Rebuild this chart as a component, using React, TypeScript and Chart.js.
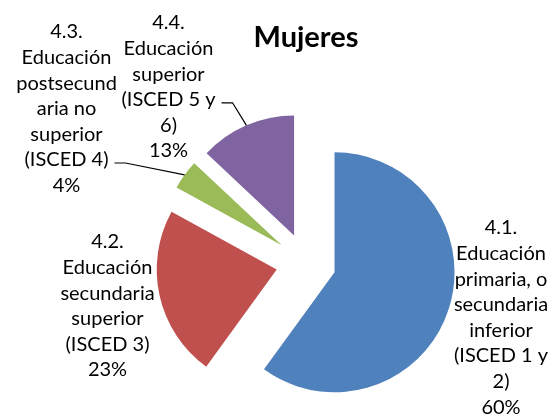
import React, { useEffect, useRef } from 'react';
import { Chart, registerables } from 'chart.js';

Chart.register(...registerables);

// ---- data ----
const title = 'Mujeres';
const categories = [
  '4.1. Educación primaria, o secundaria inferior (ISCED 1 y 2)',
  '4.2. Educación secundaria superior (ISCED 3)',
  '4.3. Educación postsecundaria no superior (ISCED 4)',
  '4.4. Educación superior (ISCED 5 y 6)',
];
const values = [60, 23, 4, 13];
const labelLines = [
  ['4.1.', 'Educación', 'primaria, o', 'secundaria', 'inferior', '(ISCED 1 y', '2)'],
  ['4.2.', 'Educación', 'secundaria', 'superior', '(ISCED 3)'],
  ['4.3.', 'Educación', 'postsecund', 'aria no', 'superior', '(ISCED 4)'],
  ['4.4.', 'Educación', 'superior', '(ISCED 5 y', '6)'],
];
const colors = ['#4F81BD', '#C0504D', '#9BBB59', '#8064A2'];

// ---- layout / style ----
const W = 551;
const H = 415;
const FONT = 'Lato, "Open Sans", sans-serif';
const LABEL_SIZE = 20;
const TITLE_SIZE = 29;
const LINE_H = 25.6;
const EXPLODE = 30;
const RADIUS = 120;
// first-line centre of each label, relative to pie centre
const LABEL_OFFSETS: [number, number][] = [
  [195, -35],
  [-198.5, -21],
  [-239.5, -231],
  [-137.5, -240],
];
// which label line carries a leader line (null = none)
const LEADER_LINE: (number | null)[] = [null, null, 5, 3];

const explodePlugin = {
  id: 'explodeSlices',
  beforeDatasetDraw(chart: any, args: any) {
    const ctx = chart.ctx;
    args.meta.data.forEach((arc: any) => {
      const half = (arc.startAngle + arc.endAngle) / 2;
      ctx.save();
      ctx.translate(Math.cos(half) * EXPLODE, Math.sin(half) * EXPLODE);
      arc.draw(ctx);
      ctx.restore();
    });
    return false;
  },
};

const labelPlugin = {
  id: 'outsideLabels',
  afterDraw(chart: any) {
    const ctx = chart.ctx;
    const meta = chart.getDatasetMeta(0);
    ctx.save();
    const area = chart.chartArea;
    const cx = (area.left + area.right) / 2;
    ctx.fillStyle = '#000';
    ctx.textAlign = 'center';
    ctx.textBaseline = 'alphabetic';
    ctx.font = `bold ${TITLE_SIZE}px ${FONT}`;
    ctx.fillText(title, cx, 47);

    ctx.font = `${LABEL_SIZE}px ${FONT}`;
    ctx.textBaseline = 'middle';
    meta.data.forEach((arc: any, i: number) => {
      const lines = [...labelLines[i], `${values[i]}%`];
      const lx = arc.x + LABEL_OFFSETS[i][0];
      const ly = arc.y + LABEL_OFFSETS[i][1];
      lines.forEach((t, k) => ctx.fillText(t, lx, ly + k * LINE_H));
      const li = LEADER_LINE[i];
      if (li !== null) {
        const tw = ctx.measureText(lines[li]).width;
        const sx = lx + tw / 2 + 6;
        const sy = ly + li * LINE_H + 3;
        const half = (arc.startAngle + arc.endAngle) / 2;
        const r = arc.outerRadius;
        const ex = arc.x + Math.cos(half) * (EXPLODE + r);
        const ey = arc.y + Math.sin(half) * (EXPLODE + r);
        ctx.beginPath();
        ctx.strokeStyle = '#000';
        ctx.lineWidth = 1.2;
        ctx.moveTo(sx, sy);
        ctx.lineTo(sx + 11, sy);
        ctx.lineTo(ex, ey);
        ctx.stroke();
      }
    });
    ctx.restore();
  },
};

export default function App() {
  const ref = useRef<HTMLCanvasElement>(null);
  useEffect(() => {
    if (!ref.current) return;
    const chart = new Chart(ref.current, {
      type: 'pie',
      data: {
        labels: categories,
        datasets: [
          {
            data: values,
            backgroundColor: colors,
            borderWidth: 0,
            offset: 0,
          },
        ],
      },
      options: {
        responsive: false,
        animation: false,
        radius: RADIUS,
        layout: { padding: { left: 61, top: 111, right: 0, bottom: 0 } },
        plugins: {
          legend: { display: false },
          title: { display: false },
          tooltip: { enabled: false },
        },
      } as any,
      plugins: [explodePlugin, labelPlugin],
    });
    return () => chart.destroy();
  }, []);
  return (
    <div style={{ position: 'fixed', left: 0, top: 0, width: W, height: H, background: '#fff' }}>
      <canvas ref={ref} width={W} height={H} style={{ display: 'block' }} />
    </div>
  );
}
